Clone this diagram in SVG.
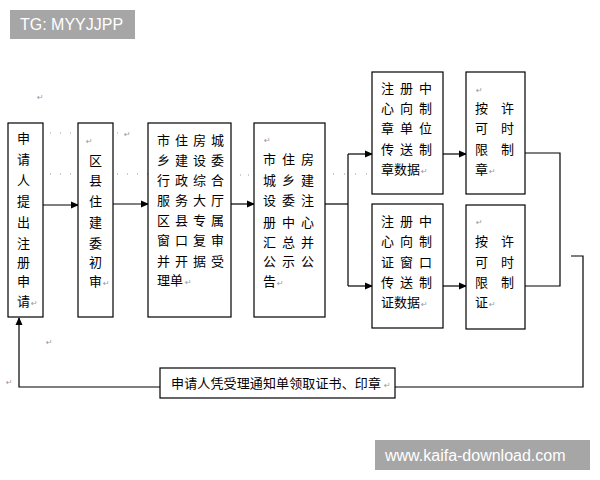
<svg xmlns="http://www.w3.org/2000/svg" width="600" height="480" viewBox="0 0 600 480">
<style>
.box{fill:#fff;stroke:#000;stroke-width:1.2}
.ln{fill:none;stroke:#000;stroke-width:1.2}
.t{font-family:"Noto Sans CJK SC","Liberation Serif",serif;font-size:13px;fill:#000}
.r{font-family:"DejaVu Sans",sans-serif;font-size:8px;fill:#999}
.dot{fill:none;stroke:#999;stroke-width:1.2;stroke-dasharray:1 9}
.wm{fill:#a6a6a6}
.wt{font-family:"Liberation Sans",Arial,sans-serif;font-size:16px;fill:#fff}
</style>
<defs>
<marker id="ah" markerWidth="8" markerHeight="8" refX="7" refY="4" orient="auto" markerUnits="userSpaceOnUse">
<path d="M0,0.5 L8,4 L0,7.5 Z" fill="#000"/>
</marker>
</defs>
<rect width="600" height="480" fill="#fff"/>

<g id="dots">
<line class="dot" x1="50" y1="133" x2="75" y2="133"/>
<line class="dot" x1="50" y1="174" x2="75" y2="174"/>
<line class="dot" x1="117" y1="133" x2="120" y2="133"/>
<line class="dot" x1="117" y1="174" x2="148" y2="174"/>
<line class="dot" x1="240" y1="175" x2="252" y2="175" style="stroke-dasharray:1 7"/>
<line class="dot" x1="333" y1="174" x2="368" y2="174" style="stroke-dasharray:1 10"/>
<text class="r" x="124" y="137">↵</text>
<text class="r" x="37" y="100">↵</text>
<text class="r" x="46" y="345">↵</text>
<text class="r" x="6" y="385">↵</text>
</g>

<g id="connectors">
<line class="ln" x1="43" y1="205" x2="78" y2="205" marker-end="url(#ah)"/>
<line class="ln" x1="113" y1="204" x2="148" y2="204" marker-end="url(#ah)"/>
<line class="ln" x1="231" y1="204" x2="254" y2="204" marker-end="url(#ah)"/>
<polyline class="ln" points="325,204 348,204"/>
<line class="ln" x1="348" y1="154" x2="348" y2="286"/>
<line class="ln" x1="348" y1="154" x2="372" y2="154" marker-end="url(#ah)"/>
<line class="ln" x1="348" y1="286" x2="372" y2="286" marker-end="url(#ah)"/>
<line class="ln" x1="443" y1="154" x2="466" y2="154" marker-end="url(#ah)"/>
<line class="ln" x1="443" y1="286" x2="466" y2="286" marker-end="url(#ah)"/>
<polyline class="ln" points="525,153 560,153 560,286 525,286"/>
<polyline class="ln" points="571,256 583,256 583,387 19,387 19,318" marker-end="url(#ah)"/>
</g>

<g id="n1">
<rect class="box" x="8" y="123" width="35" height="194"/>
<text class="t"><tspan x="17" y="143">申</tspan><tspan x="17" y="164">请</tspan><tspan x="17" y="185">人</tspan><tspan x="17" y="206">提</tspan><tspan x="17" y="227">出</tspan><tspan x="17" y="248">注</tspan><tspan x="17" y="267">册</tspan><tspan x="17" y="286">申</tspan><tspan x="17" y="306">请</tspan></text>
<text class="r" x="31" y="306">↵</text>
</g>

<g id="n2">
<rect class="box" x="78" y="123" width="35" height="194"/>
<text class="r" x="86" y="144">↵</text>
<text class="t"><tspan x="89" y="165">区</tspan><tspan x="89" y="185">县</tspan><tspan x="89" y="206">住</tspan><tspan x="89" y="227">建</tspan><tspan x="89" y="248">委</tspan><tspan x="89" y="267">初</tspan><tspan x="89" y="286">审</tspan></text>
<text class="r" x="103" y="286">↵</text>
</g>

<g id="n3">
<rect class="box" x="148" y="123" width="83" height="194"/>
<text class="t" style="letter-spacing:5px"><tspan x="157" y="145">市住房城</tspan><tspan x="157" y="165">乡建设委</tspan><tspan x="157" y="185">行政综合</tspan><tspan x="157" y="205">服务大厅</tspan><tspan x="157" y="225">区县专属</tspan><tspan x="157" y="245">窗口复审</tspan><tspan x="157" y="266">并开据受</tspan></text>
<text class="t"><tspan x="157" y="285">理单</tspan></text>
<text class="r" x="185" y="285">↵</text>
</g>

<g id="n4">
<rect class="box" x="254" y="123" width="71" height="194"/>
<text class="r" x="264" y="143">↵</text>
<text class="t" style="letter-spacing:6px"><tspan x="263" y="164">市住房</tspan><tspan x="263" y="185">城乡建</tspan><tspan x="263" y="205">设委注</tspan><tspan x="263" y="227">册中心</tspan><tspan x="263" y="247">汇总并</tspan><tspan x="263" y="266">公示公</tspan></text>
<text class="t"><tspan x="263" y="286">告</tspan></text>
<text class="r" x="277" y="286">↵</text>
</g>

<g id="n5">
<rect class="box" x="372" y="72" width="71" height="122"/>
<text class="t" style="letter-spacing:6px"><tspan x="381" y="93">注册中</tspan><tspan x="381" y="113">心向制</tspan><tspan x="381" y="133">章单位</tspan><tspan x="381" y="154">传送制</tspan></text>
<text class="t"><tspan x="381" y="174">章数据</tspan></text>
<text class="r" x="421" y="174">↵</text>
</g>

<g id="n6">
<rect class="box" x="466" y="72" width="59" height="122"/>
<text class="r" x="476" y="93">↵</text>
<text class="t"><tspan x="475" y="113">按</tspan><tspan x="501" y="113">许</tspan><tspan x="475" y="133">可</tspan><tspan x="501" y="133">时</tspan><tspan x="475" y="154">限</tspan><tspan x="501" y="154">制</tspan><tspan x="475" y="174">章</tspan></text>
<text class="r" x="489" y="174">↵</text>
</g>

<g id="n7">
<rect class="box" x="372" y="204" width="71" height="124"/>
<text class="t" style="letter-spacing:6px"><tspan x="381" y="226">注册中</tspan><tspan x="381" y="246">心向制</tspan><tspan x="381" y="267">证窗口</tspan><tspan x="381" y="287">传送制</tspan></text>
<text class="t"><tspan x="381" y="307">证数据</tspan></text>
<text class="r" x="421" y="307">↵</text>
</g>

<g id="n8">
<rect class="box" x="466" y="205" width="59" height="124"/>
<text class="r" x="476" y="225">↵</text>
<text class="t"><tspan x="475" y="246">按</tspan><tspan x="501" y="246">许</tspan><tspan x="475" y="267">可</tspan><tspan x="501" y="267">时</tspan><tspan x="475" y="287">限</tspan><tspan x="501" y="287">制</tspan><tspan x="475" y="307">证</tspan></text>
<text class="r" x="489" y="307">↵</text>
</g>

<g id="n9">
<rect class="box" x="160" y="368" width="235" height="30"/>
<text class="t" x="171" y="388" textLength="210" lengthAdjust="spacing">申请人凭受理通知单领取证书、印章</text>
<text class="r" x="384" y="388">↵</text>
</g>

<g id="watermarks">
<rect class="wm" x="10" y="10" width="125" height="29"/>
<text class="wt" x="20" y="30">TG: MYYJJPP</text>
<rect class="wm" x="375" y="440" width="215" height="30"/>
<text class="wt" x="385" y="461">www.kaifa-download.com</text>
</g>
</svg>
